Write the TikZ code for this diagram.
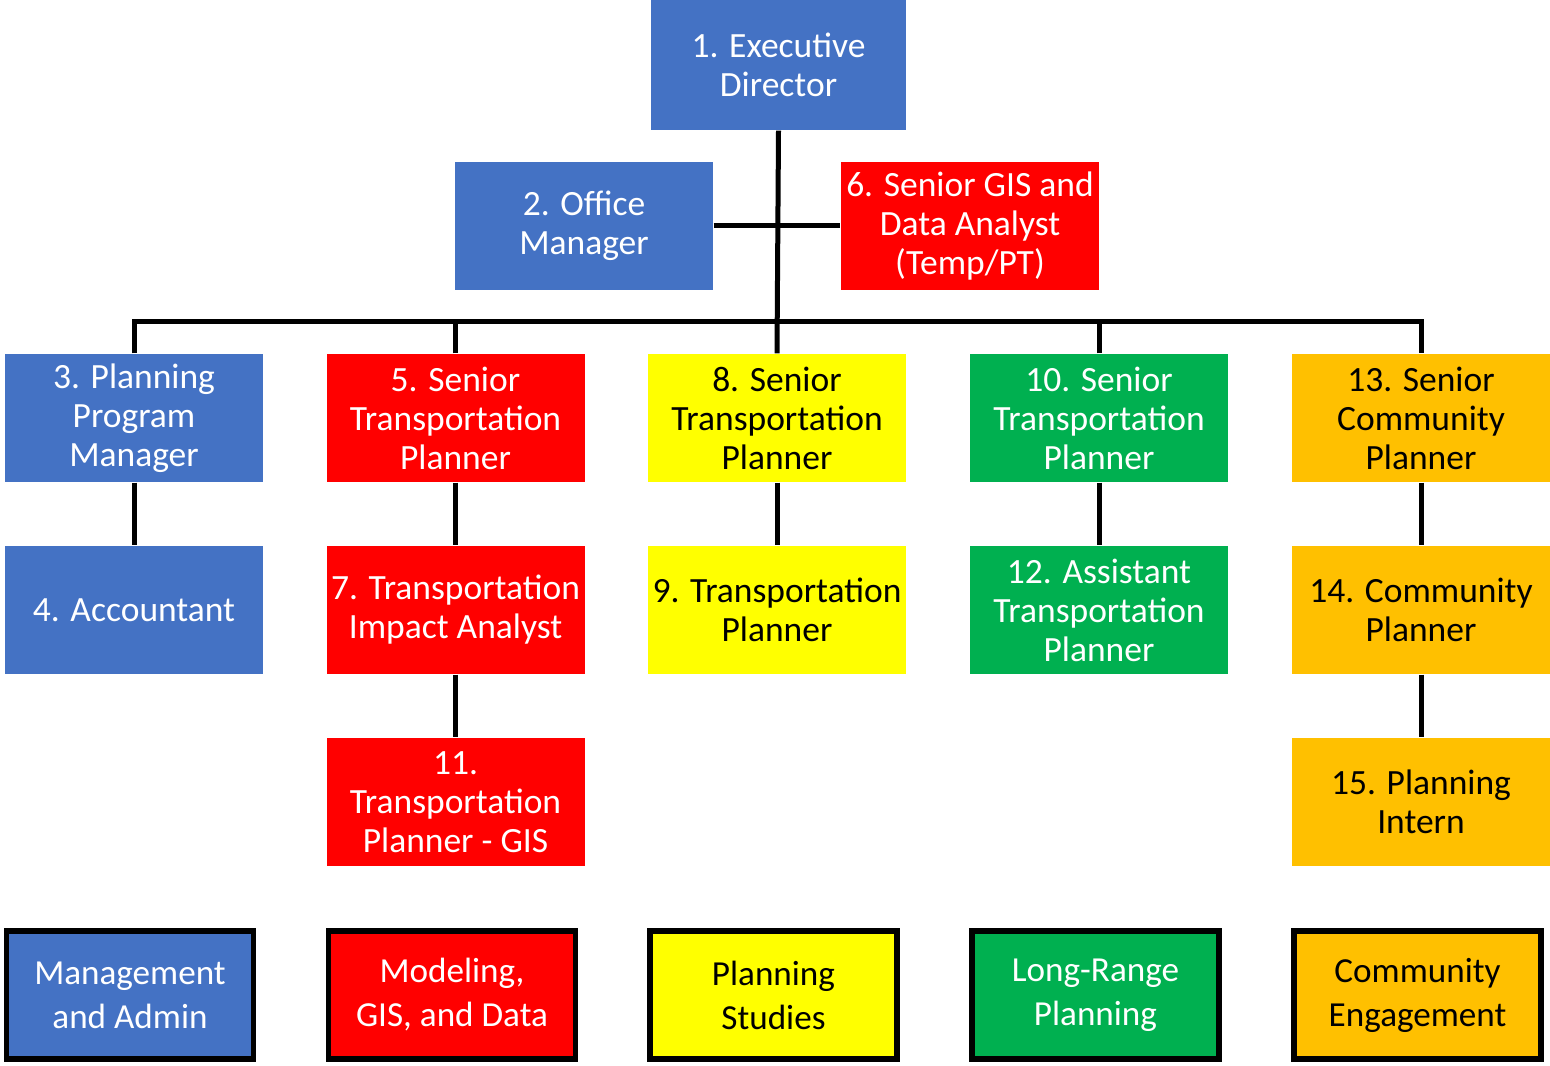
\documentclass[tikz,border=0pt]{standalone}
\usepackage{fontspec}
\setmainfont{Carlito}
\usepackage{xcolor}
\usetikzlibrary{positioning}
\definecolor{mgmtblue}{HTML}{4472C4}
\definecolor{modelred}{HTML}{FF0000}
\definecolor{studyyellow}{HTML}{FFFF00}
\definecolor{rangegreen}{HTML}{00B050}
\definecolor{engageorange}{HTML}{FFC000}
\tikzset{
	post/.style={rectangle,minimum width=2.58cm,minimum height=1.28cm,inner sep=0pt,align=center,
		font=\fontsize{10.1pt}{11.1pt}\selectfont},
	mgmt/.style={post,fill=mgmtblue,text=white},
	model/.style={post,fill=modelred,text=white},
	study/.style={post,fill=studyyellow,text=black},
	longrange/.style={post,fill=rangegreen,text=white},
	engage/.style={post,fill=engageorange,text=black},
	key/.style={draw=black,line width=0.055cm,minimum width=2.47cm,minimum height=1.28cm,
		inner sep=0pt,align=center,font=\fontsize{10pt}{12.5pt}\selectfont},
	link/.style={draw=black,line width=0.05cm}
}

\begin{document}
\begin{tikzpicture}
	\useasboundingbox (0,0) rectangle (15.5,-10.66);
	% top of the chart
	\node [mgmt,minimum width=2.55cm,minimum height=1.3cm] (1) at (7.785,-0.65) {1. Executive\\Director};
	\node [mgmt] (2) at (5.84,-2.26) {2. Office\\Manager};
	\node [model] (6) at (9.70,-2.26) {6. Senior GIS and\\Data Analyst\\(Temp/PT)};
	% first row
	\node [mgmt] (3) at (1.34,-4.18) {3. Planning\\Program\\Manager};
	\node [model] (5) at (4.555,-4.18) {5. Senior\\Transportation\\Planner};
	\node [study] (8) at (7.77,-4.18) {8. Senior\\Transportation\\Planner};
	\node [longrange] (10) at (10.99,-4.18) {10. Senior\\Transportation\\Planner};
	\node [engage] (13) at (14.21,-4.18) {13. Senior\\Community\\Planner};
	% second row
	\node [mgmt] (4) at (1.34,-6.10) {4. Accountant};
	\node [model] (7) at (4.555,-6.10) {7. Transportation\\Impact Analyst};
	\node [study] (9) at (7.77,-6.10) {9. Transportation\\Planner};
	\node [longrange] (12) at (10.99,-6.10) {12. Assistant\\Transportation\\Planner};
	\node [engage] (14) at (14.21,-6.10) {14. Community\\Planner};
	% third row
	\node [model] (11) at (4.555,-8.02) {11.\\Transportation\\Planner - GIS};
	\node [engage] (15) at (14.21,-8.02) {15. Planning\\Intern};
	% legend
	\node [key,fill=mgmtblue,text=white] (k1) at (1.30,-9.95) {Management\\and Admin};
	\node [key,fill=modelred,text=white] (k2) at (4.52,-9.95) {Modeling,\\GIS, and Data};
	\node [key,fill=studyyellow,text=black] (k3) at (7.735,-9.95) {Planning\\Studies};
	\node [key,fill=rangegreen,text=white] (k4) at (10.955,-9.95) {Long-Range\\Planning};
	\node [key,fill=engageorange,text=black] (k5) at (14.175,-9.95) {Community\\Engagement};
	% connectors
	\coordinate (bar) at (7.77,-3.22);
	\draw [link] (1.south) -- (8.north);
	\draw [link] (2.east) -- (6.west);
	\draw [link] (3.north) |- (bar) -| (13.north);
	\draw [link] (5.north) |- (bar);
	\draw [link] (10.north) |- (bar);
	\draw [link] (3) -- (4);
	\draw [link] (5) -- (7);
	\draw [link] (7) -- (11);
	\draw [link] (8) -- (9);
	\draw [link] (10) -- (12);
	\draw [link] (13) -- (14);
	\draw [link] (14) -- (15);
\end{tikzpicture}
\end{document}
